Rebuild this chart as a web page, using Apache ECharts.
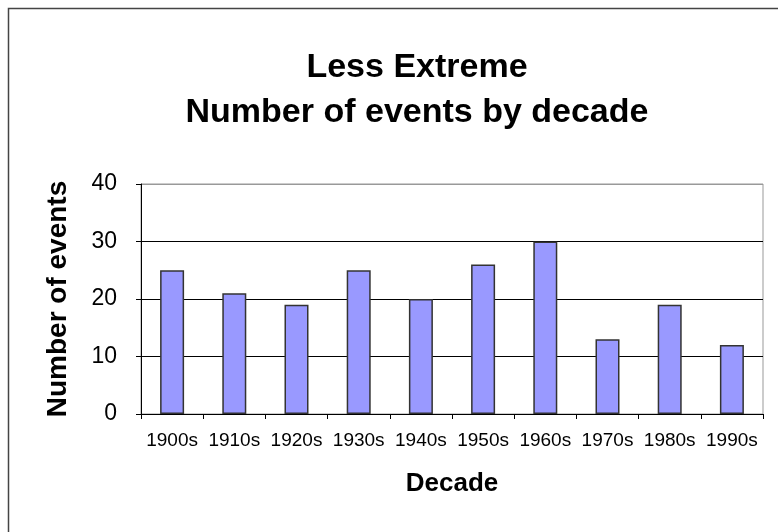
<!DOCTYPE html>
<html>
<head>
<meta charset="utf-8">
<script src="https://cdn.jsdelivr.net/npm/echarts@6/dist/echarts.min.js"></script>
<style>
  html, body { margin: 0; padding: 0; background: #fff; }
</style>
</head>
<body>
<div id="chart" style="width: 778px;height:532px;"></div>
<script>
var decades = ['1900s','1910s','1920s','1930s','1940s','1950s','1960s','1970s','1980s','1990s'];
var events = [25, 21, 19, 25, 20, 26, 30, 13, 19, 12];
var yTicks = [0, 10, 20, 30, 40];

var chart = echarts.init(document.getElementById('chart'));
var font = 'Liberation Sans, Arial, sans-serif';

var option = {
  animation: false,
  backgroundColor: '#fff',
  title: {
    text: 'Less Extreme\nNumber of events by decade',
    left: 412,
    top: 40,
    textAlign: 'center',
    textStyle: {
      fontFamily: font,
      fontSize: 34,
      fontWeight: 'bold',
      color: '#000',
      lineHeight: 45
    }
  },
  graphic: [{
    type: 'rect',
    shape: { x: 8.5, y: 8.5, width: 800, height: 600 },
    style: { fill: 'none', stroke: '#444', lineWidth: 1.5 },
    silent: true
  }],
  grid: {
    left: 141,
    right: 15,
    top: 184,
    bottom: 118,
    show: true,
    borderColor: '#999',
    borderWidth: 1
  },
  xAxis: {
    type: 'category',
    data: decades,
    name: 'Decade',
    nameLocation: 'middle',
    nameGap: 57,
    nameTextStyle: { fontFamily: font, fontSize: 26, fontWeight: 'bold', color: '#000' },
    axisLine: { lineStyle: { color: '#000', width: 1 } },
    axisTick: { show: true, alignWithLabel: false, length: 5, lineStyle: { color: '#000' } },
    axisLabel: { fontFamily: font, fontSize: 19, color: '#000', margin: 17, interval: 0 }
  },
  yAxis: {
    type: 'value',
    min: yTicks[0],
    max: yTicks[yTicks.length - 1],
    interval: 10,
    name: 'Number of events',
    nameLocation: 'middle',
    nameGap: 69,
    nameTextStyle: { fontFamily: font, fontSize: 28, fontWeight: 'bold', color: '#000' },
    axisLine: { show: true, lineStyle: { color: '#000', width: 1 } },
    axisTick: { show: true, length: 5, lineStyle: { color: '#000' } },
    axisLabel: { fontFamily: font, fontSize: 23, color: '#000', margin: 24 },
    splitLine: { show: true, lineStyle: { color: ['#000', '#000', '#000', '#000', '#999'], width: 1 } }
  },
  series: [{
    type: 'bar',
    data: events,
    barWidth: 24,
    itemStyle: { color: '#9999FF', borderColor: '#333', borderWidth: 1.5 }
  }]
};

chart.setOption(option);
</script>
</body>
</html>
